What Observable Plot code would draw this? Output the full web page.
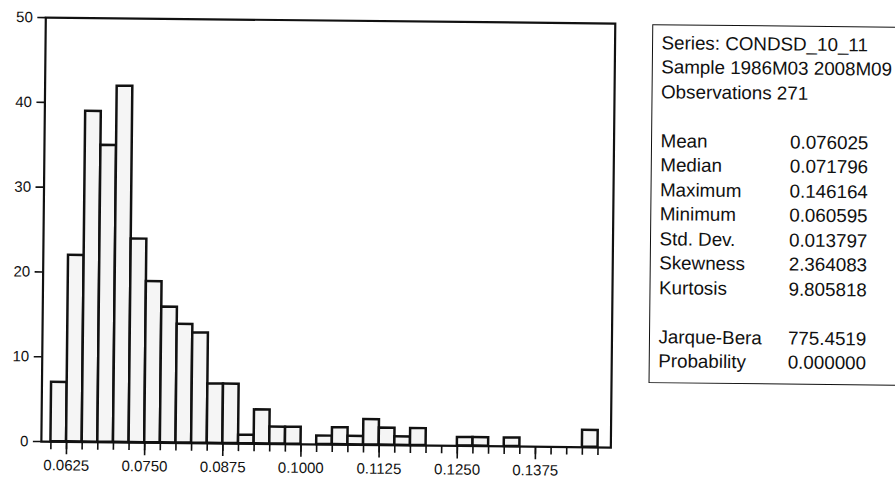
<!DOCTYPE html>
<html><head><meta charset="utf-8">
<script src="https://cdn.jsdelivr.net/npm/d3@7"></script>
<script src="https://cdn.jsdelivr.net/npm/@observablehq/plot@0.6"></script>
<style>
html,body{margin:0;padding:0;background:#fff;overflow:hidden;width:895px;height:480px}
#wrap{position:relative;width:895px;height:480px;font-family:"Liberation Sans",Arial,sans-serif;transform:rotate(0.6deg);transform-origin:447px 240px}
#chart{position:absolute;left:0;top:0}
#chart svg text{font-size:15px !important;fill:#111}
#stats{position:absolute;left:650px;top:22px;width:330px;height:359px;border:1.5px solid #111;box-sizing:border-box;padding:5.5px 0 0 8.5px;font-size:18.8px;line-height:24.5px;color:#111}
.row{display:flex;white-space:nowrap;height:24.5px}
.row .k{width:129.5px}
</style></head>
<body>
<div id="wrap"><div id="chart"></div><div id="stats"></div></div>
<script>
// Histogram bins (lower edge) and counts
const binLow = [0.0600,0.0625,0.0650,0.0675,0.0700,0.0725,0.0750,0.0775,0.0800,0.0825,0.0850,0.0875,0.0900,0.0925,0.0950,0.0975,0.1000,0.1025,0.1050,0.1075,0.1100,0.1125,0.1150,0.1175,0.1200,0.1225,0.1250,0.1275,0.1300,0.1325,0.1350,0.1375,0.1400,0.1425,0.1450];
const counts = [7,22,39,35,42,24,19,16,14,13,7,7,1,4,2,2,0,1,2,1,3,2,1,2,0,0,1,1,0,1,0,0,0,0,2];
const binWidth = 0.0025;
const xMajorTicks = [0.0625,0.0750,0.0875,0.1000,0.1125,0.1250,0.1375];
const yTicks = [0,10,20,30,40,50];

const headerLines = ["Series: CONDSD_10_11","Sample 1986M03 2008M09","Observations 271"];
const statNames = ["Mean","Median","Maximum","Minimum","Std. Dev.","Skewness","Kurtosis","","Jarque-Bera","Probability"];
const statValues = ["0.076025","0.071796","0.146164","0.060595","0.013797","2.364083","9.805818","","775.4519","0.000000"];

const table = binLow.map((b,i) => ({x1: b, x2: b + binWidth, count: counts[i]})).filter(d => d.count > 0);
const xMinorTicks = d3.range(0, 36).map(i => +(0.0600 + i*binWidth).toFixed(4));

const font = '"Liberation Sans", Arial, sans-serif';
const plot = Plot.plot({
  width: 645, height: 480,
  marginLeft: 43, marginRight: 32.5, marginTop: 21.3, marginBottom: 34.7,
  x: {domain: [0.05847, 0.14955], label: null},
  y: {domain: [0, 50], label: null},
  style: {fontFamily: font, fontSize: "15px", color: "#111", background: "white"},
  marks: [
    Plot.rect(table, {x1: "x1", x2: "x2", y1: 0, y2: "count", inset: 0, fill: "#f5f5f5", stroke: "#111", strokeWidth: 2.5}),
    Plot.frame({stroke: "#111", strokeWidth: 2.2}),
    Plot.axisY(yTicks, {tickSize: 8, tickPadding: 5, strokeWidth: 1.6, label: null}),
    Plot.axisX(xMinorTicks, {tickSize: 8, tickFormat: () => "", strokeWidth: 1.6, label: null}),
    Plot.axisX(xMajorTicks, {tickSize: 13, tickPadding: 5, tickFormat: d3.format(".4f"), strokeWidth: 1.6, label: null})
  ]
});
document.getElementById("chart").appendChild(plot);

const stats = document.getElementById("stats");
headerLines.forEach(t => { const r = document.createElement("div"); r.className = "row"; r.textContent = t; stats.appendChild(r); });
stats.appendChild(Object.assign(document.createElement("div"), {className: "row"}));
statNames.forEach((n,i) => {
  const r = document.createElement("div"); r.className = "row";
  const k = document.createElement("span"); k.className = "k"; k.textContent = n;
  const v = document.createElement("span"); v.textContent = statValues[i];
  r.appendChild(k); r.appendChild(v); stats.appendChild(r);
});
</script>
</body></html>
